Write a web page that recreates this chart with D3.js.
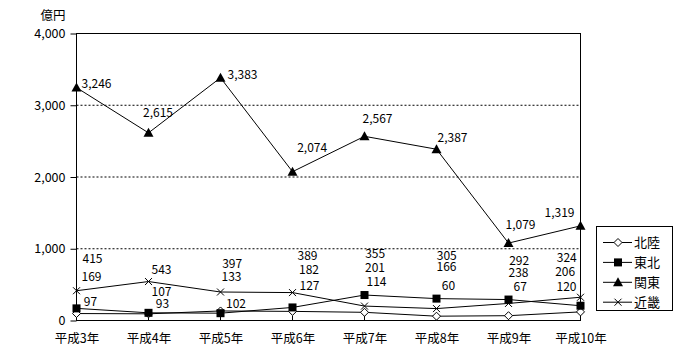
<!DOCTYPE html>
<html><head><meta charset="utf-8">
<script src="https://cdn.jsdelivr.net/npm/d3@7"></script>
<style>
html,body{margin:0;padding:0;background:#fff;}
svg{display:block;}
text{font-family:"Noto Sans CJK JP","Noto Sans",sans-serif;fill:#000;}
</style></head>
<body><svg id="chart" width="700" height="360"></svg>
<script>
const years = ["平成3年","平成4年","平成5年","平成6年","平成7年","平成8年","平成9年","平成10年"];
const hokuriku = [97, 93, 133, 127, 114, 60, 67, 120];
const tohoku = [169, 107, 102, 182, 355, 305, 292, 206];
const kanto = [3246, 2615, 3383, 2074, 2567, 2387, 1079, 1319];
const kinki = [415, 543, 397, 389, 201, 166, 238, 324];
const yTicks = [0, 1000, 2000, 3000, 4000];
const seriesNames = ["北陸", "東北", "関東", "近畿"];
const unitLabel = "億円";

// label offsets (label centre relative to point), placement only
const hokurikuLabelOff = [[14,-12],[14,-9.8],[11,-34.5],[17,-25.9],[12,-30.1],[12,-30.7],[11.7,-28.5],[-14,-24.7]];
const tohokuLabelOff = [[15,-32],[13,-20.8],[15.5,-9.4],[16.5,-37.9],[10.7,-41.2],[10.3,-43.1],[10.7,-39],[-15.3,-34.2]];
const kantoLabelOff = [[20,-4],[9.5,-20],[22,-3.3],[19.7,-23.5],[13,-17.5],[16,-11.4],[12,-18.3],[-21,-12.7]];
const kinkiLabelOff = [[16,-32],[13,-11.7],[11.7,-28.2],[15,-37.1],[10.5,-37.9],[10,-41.4],[10,-30.2],[-13.7,-39.5]];

const series = [
  {name: seriesNames[0], values: hokuriku, marker: "diamond", off: hokurikuLabelOff},
  {name: seriesNames[1], values: tohoku, marker: "square", off: tohokuLabelOff},
  {name: seriesNames[2], values: kanto, marker: "triangle", off: kantoLabelOff},
  {name: seriesNames[3], values: kinki, marker: "cross", off: kinkiLabelOff}
];

const svg = d3.select("#chart");
const x = d3.scalePoint().domain(years).range([76.5, 580.5]).padding(0);
const y = d3.scaleLinear().domain([0, 4000]).range([320.5, 33.5]);
const fmt = d3.format(",");

// gridlines
svg.append("g").selectAll("line").data(yTicks.filter(t => t > 0 && t < 4000)).join("line")
  .attr("x1", 76.5).attr("x2", 580.5)
  .attr("y1", d => y(d)).attr("y2", d => y(d))
  .attr("stroke", "#000").attr("stroke-width", 1).attr("stroke-dasharray", "2,2");

// plot frame
svg.append("rect").attr("x", 76.5).attr("y", y(4000)).attr("width", 504).attr("height", y(0) - y(4000))
  .attr("fill", "none").attr("stroke", "#000").attr("stroke-width", 1);

// y axis
const yAxis = d3.axisLeft(y).tickValues(yTicks).tickFormat(fmt).tickSize(6).tickPadding(5);
const gy = svg.append("g").attr("transform", "translate(76.5,0)").call(yAxis);
gy.select(".domain").remove();
gy.selectAll("text").style("font-size", "12.5px").style("font-family", '"Noto Sans CJK JP"');
gy.selectAll("line").attr("stroke", "#000");

// x axis
const xAxis = d3.axisBottom(x).tickSize(0).tickPadding(14);
const gx = svg.append("g").attr("transform", "translate(0,320.5)").call(xAxis);
gx.select(".domain").remove();
gx.selectAll("text").style("font-size", "12.5px").style("font-family", '"Noto Sans CJK JP"');
// inner category ticks
svg.append("g").selectAll("line").data(years).join("line")
  .attr("x1", d => x(d)).attr("x2", d => x(d)).attr("y1", 320.5).attr("y2", 315.5)
  .attr("stroke", "#000");

// unit label
svg.append("text").attr("x", 53).attr("y", 16).attr("text-anchor", "middle").attr("dy", "0.35em")
  .style("font-size", "12.5px").text(unitLabel);

function drawMarker(g, type) {
  if (type === "diamond") {
    g.append("path").attr("d", "M0,-4L4,0L0,4L-4,0Z").attr("fill", "#fff").attr("stroke", "#000");
  } else if (type === "square") {
    g.append("rect").attr("x", -4).attr("y", -4).attr("width", 8).attr("height", 8).attr("fill", "#000");
  } else if (type === "triangle") {
    g.append("path").attr("d", "M0,-5L5,4L-5,4Z").attr("fill", "#000");
  } else if (type === "cross") {
    g.append("path").attr("d", "M-3.5,-3.5L3.5,3.5M-3.5,3.5L3.5,-3.5").attr("stroke", "#000").attr("fill", "none");
  }
}

const line = d3.line().x((d, i) => x(years[i])).y(d => y(d));
series.forEach(s => {
  svg.append("path").datum(s.values).attr("d", line).attr("fill", "none").attr("stroke", "#000").attr("stroke-width", 1);
});
series.forEach(s => {
  s.values.forEach((v, i) => {
    const g = svg.append("g").attr("transform", `translate(${x(years[i])},${y(v)})`);
    drawMarker(g, s.marker);
  });
});
series.forEach(s => {
  svg.append("g").selectAll("text").data(s.values).join("text")
    .attr("x", (d, i) => x(years[i]) + s.off[i][0])
    .attr("y", (d, i) => y(d) + s.off[i][1])
    .attr("text-anchor", "middle").attr("dy", "0.35em")
    .style("font-size", "12px")
    .text(d => fmt(d));
});

// legend
const lg = svg.append("g");
lg.append("rect").attr("x", 596.5).attr("y", 226.5).attr("width", 76).attr("height", 84)
  .attr("fill", "#fff").attr("stroke", "#000");
series.forEach((s, i) => {
  const cy = 242.5 + i * 19.9;
  lg.append("line").attr("x1", 603).attr("x2", 632).attr("y1", cy).attr("y2", cy).attr("stroke", "#000");
  const g = lg.append("g").attr("transform", `translate(618,${cy})`);
  drawMarker(g, s.marker);
  lg.append("text").attr("x", 634).attr("y", cy).attr("dy", "0.35em").style("font-size", "13px").text(s.name);
});
</script></body></html>
